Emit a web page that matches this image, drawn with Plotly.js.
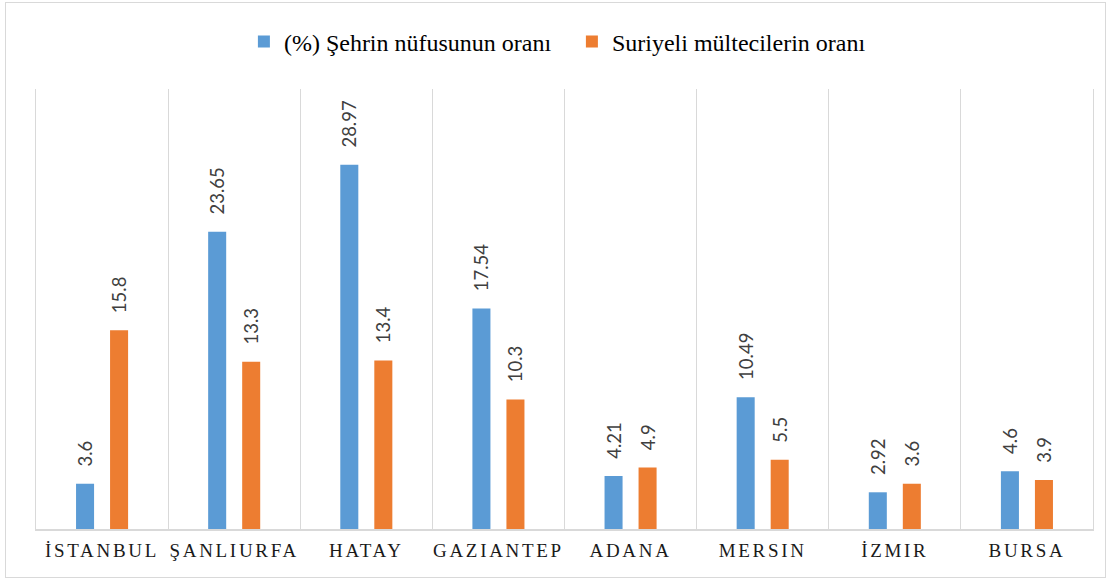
<!DOCTYPE html>
<html>
<head>
<meta charset="utf-8">
<script src="https://cdn.plot.ly/plotly-3.0.1.min.js"></script>
<style>
  html, body { margin: 0; padding: 0; background: #fff; }
  #wrap { position: relative; width: 1112px; height: 581px; }
  #chart { width: 1112px; height: 581px; }
  #frame { position: absolute; left: 5px; top: 2px; width: 1099px; height: 574px; border: 1.5px solid #d9d9d9; pointer-events: none; }
  .xtick text { letter-spacing: 2.7px; }
</style>
</head>
<body>
<div id="wrap">
  <div id="chart"></div>
  <div id="frame"></div>
</div>
<script>
const cities = ["İSTANBUL", "ŞANLIURFA", "HATAY", "GAZİANTEP", "ADANA", "MERSİN", "İZMİR", "BURSA"];
const cityLabels = ["İSTANBUL", "ŞANLIURFA", "HATAY", "GAZIANTEP", "ADANA", "MERSIN", "İZMIR", "BURSA"];
const seriesNames = ["(%) Şehrin nüfusunun oranı", "Suriyeli mültecilerin oranı"];
const cityShare = [3.6, 23.65, 28.97, 17.54, 4.21, 10.49, 2.92, 4.6];
const cityShareText = ["3.6", "23.65", "28.97", "17.54", "4.21", "10.49", "2.92", "4.6"];
const refugeeShare = [15.8, 13.3, 13.4, 10.3, 4.9, 5.5, 3.6, 3.9];
const refugeeShareText = ["15.8", "13.3", "13.4", "10.3", "4.9", "5.5", "3.6", "3.9"];
const colors = ["#5B9BD5", "#ED7D31"];

const serif = "Liberation Serif";
const labelFont = "Lato";

function barTrace(name, values, texts, color) {
  return {
    type: "bar",
    name: name,
    x: cities,
    y: values,
    text: texts,
    texttemplate: "\u00a0\u00a0\u00a0%{text}",
    textposition: "outside",
    textangle: -90,
    constraintext: "none",
    cliponaxis: false,
    textfont: { family: labelFont, size: 18.5, color: "#404040" },
    marker: { color: color },
    hoverinfo: "x+y"
  };
}

const data = [
  barTrace(seriesNames[0], cityShare, cityShareText, colors[0]),
  barTrace(seriesNames[1], refugeeShare, refugeeShareText, colors[1])
];

const layout = {
  width: 1112,
  height: 581,
  margin: { l: 36, r: 19, t: 89, b: 52 },
  paper_bgcolor: "#ffffff",
  plot_bgcolor: "#ffffff",
  barmode: "group",
  bargap: 0.485,
  bargroupgap: 0.47,
  font: { family: serif, color: "#404040" },
  showlegend: true,
  legend: {
    orientation: "h",
    x: 0.507,
    xanchor: "center",
    y: 1.107,
    yanchor: "middle",
    font: { family: serif, size: 24, color: "#000000" },
    entrywidth: 283,
    traceorder: "normal",
    bgcolor: "rgba(0,0,0,0)"
  },
  xaxis: {
    type: "category",
    tickvals: cities,
    ticktext: cityLabels,
    tickson: "boundaries",
    ticks: "",
    ticklabelstandoff: 4,
    showgrid: true,
    gridcolor: "#d9d9d9",
    gridwidth: 1,
    showline: true,
    linecolor: "#d9d9d9",
    linewidth: 1.5,
    tickfont: { family: serif, size: 19, color: "#1a1a1a" },
    fixedrange: true
  },
  yaxis: {
    range: [0, 35],
    showticklabels: false,
    showgrid: false,
    zeroline: false,
    showline: true,
    linecolor: "#d9d9d9",
    linewidth: 1,
    mirror: true,
    ticks: "",
    fixedrange: true
  }
};

Plotly.newPlot("chart", data, layout, { displayModeBar: false, staticPlot: true });
</script>
</body>
</html>
